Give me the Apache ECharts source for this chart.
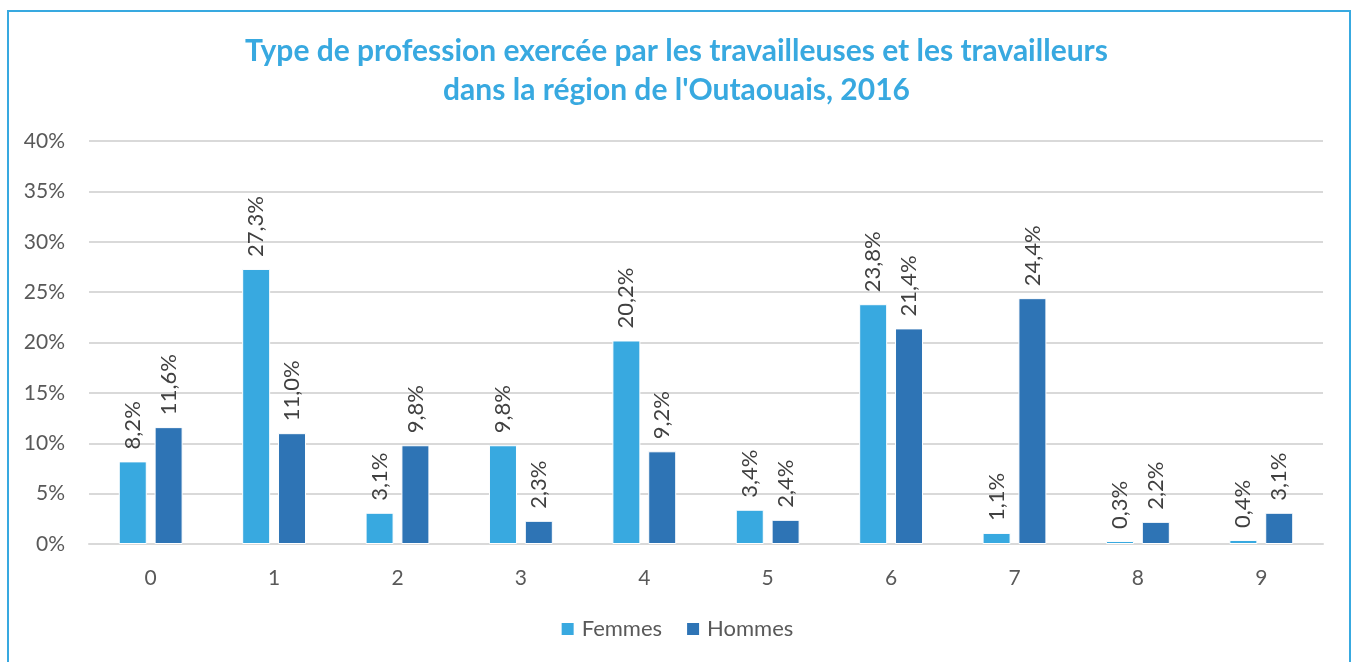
<!DOCTYPE html>
<html><head><meta charset="utf-8">
<script src="https://cdn.jsdelivr.net/npm/echarts@6/dist/echarts.min.js"></script>
<style>html,body{margin:0;padding:0;background:#fff;}#c{width:1353px;height:662px;}</style>
</head><body><div id="c"></div>
<script>
const categories = ['0','1','2','3','4','5','6','7','8','9'];
const femmes = [8.2, 27.3, 3.1, 9.8, 20.2, 3.4, 23.8, 1.1, 0.3, 0.4];
const hommes = [11.6, 11.0, 9.8, 2.3, 9.2, 2.4, 21.4, 24.4, 2.2, 3.1];
const yTicks = [0, 5, 10, 15, 20, 25, 30, 35, 40];
const titleLines = ["Type de profession exercée par les travailleuses et les travailleurs", "dans la région de l'Outaouais, 2016"];
const seriesNames = ['Femmes', 'Hommes'];

const FONT = 'Lato, "Open Sans", sans-serif';
const chart = echarts.init(document.getElementById('c'));
const fmt = v => v.toFixed(1).replace('.', ',') + '%';
const labelCfg = {
  show: true, position: 'top', rotate: 90, align: 'left', verticalAlign: 'middle',
  distance: 12, fontSize: 22, color: '#404040', fontFamily: FONT,
  formatter: p => fmt(p.value)
};
chart.setOption({
  animation: false,
  textStyle: { fontFamily: FONT },
  graphic: [{ type: 'rect', shape: { x: 8, y: 11, width: 1342, height: 700 }, style: { fill: 'none', stroke: '#38A9E0', lineWidth: 2 }, silent: true }],
  title: {
    text: titleLines.join('\n'), left: 'center', top: 27,
    textStyle: { fontFamily: FONT, fontSize: 30, fontWeight: 'bold', color: '#38A9E0', lineHeight: 39 }
  },
  legend: {
    bottom: 17, left: 'center', itemWidth: 14, itemHeight: 14, itemGap: 23, icon: 'rect',
    textStyle: { fontSize: 22, color: '#595959', fontFamily: FONT, padding: [0, 0, 0, 2] },
    data: seriesNames
  },
  grid: { left: 89, right: 30, top: 141, bottom: 118, containLabel: false },
  xAxis: {
    type: 'category', data: categories,
    axisLine: { lineStyle: { color: '#d9d9d9', width: 2 } },
    axisTick: { show: false },
    axisLabel: { fontSize: 21, color: '#595959', margin: 24, fontFamily: FONT }
  },
  yAxis: {
    type: 'value', min: yTicks[0], max: yTicks[yTicks.length - 1], interval: 5,
    axisLine: { show: false }, axisTick: { show: false },
    splitLine: { lineStyle: { color: '#d9d9d9', width: 2 } },
    axisLabel: { fontSize: 21, color: '#595959', margin: 24, fontFamily: FONT, formatter: v => v + '%' }
  },
  series: [
    { name: seriesNames[0], type: 'bar', data: femmes, barWidth: 28, barGap: '28%',
      itemStyle: { color: '#38A9E0', borderColor: '#ffffff', borderWidth: 1 }, label: labelCfg },
    { name: seriesNames[1], type: 'bar', data: hommes, barWidth: 28,
      itemStyle: { color: '#2E74B5', borderColor: '#ffffff', borderWidth: 1 }, label: labelCfg }
  ]
});
</script></body></html>
